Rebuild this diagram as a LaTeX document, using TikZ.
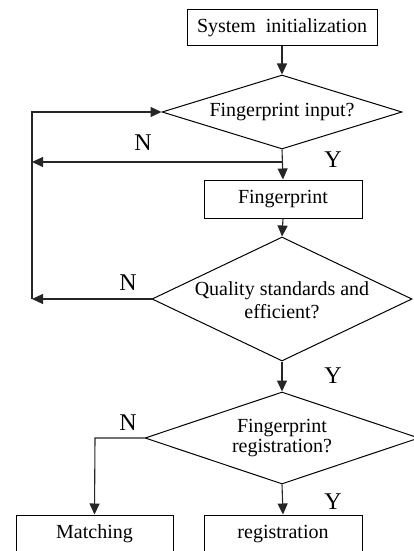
\documentclass[tikz,border=0pt]{standalone}
\usepackage{fontspec}
\setmainfont{Liberation Serif}
\usetikzlibrary{shapes.geometric,arrows.meta}
\begin{document}
\begin{tikzpicture}[x=1pt,y=-1pt,
  every node/.style={font=\fontsize{20}{22}\selectfont},
  procbox/.style={draw, line width=1pt, rectangle, inner sep=0pt},
  dia/.style={draw, line width=1pt, diamond, inner sep=0pt},
  diatext/.style={align=center, inner sep=0pt},
  lbl/.style={font=\fontsize{24}{26}\selectfont, inner sep=0pt},
  conn/.style={line width=1.1pt, draw=black!85},
  arr/.style={conn, -{Triangle[length=11pt,width=10pt]}}]
\useasboundingbox (0,0) rectangle (414,551);
\clip (0,0) rectangle (414,551);
% nodes
\node[procbox, minimum width=190pt, minimum height=36pt] (sys) at (282,28) {System\ \ initialization};
\node[dia, minimum width=240pt, minimum height=74pt] (d1) at (282,112) {};
\node[diatext] (t1) at (282,112) {Fingerprint input?};
\node[procbox, minimum width=158pt, minimum height=38pt] (fp) at (283,199) {Fingerprint};
\node[dia, minimum width=260pt, minimum height=124pt] (d2) at (282,299) {};
\node[diatext, font=\fontsize{20}{23}\selectfont] (t2) at (282,300) {Quality standards and\\efficient?};
\node[dia, minimum width=274pt, minimum height=92pt] (d3) at (282,438) {};
\node[diatext, font=\fontsize{20}{20}\selectfont] (t3) at (282,438) {Fingerprint\\registration?};
\node[procbox, minimum width=157pt, minimum height=38pt] (mat) at (94.5,534) {Matching};
\node[procbox, minimum width=158pt, minimum height=38pt] (reg) at (283,534) {registration};
% helper coordinates
\coordinate (j1) at (283,162);
\coordinate (l1) at (32,162);
\coordinate (l2) at (32,299);
\coordinate (l0) at (32,112);
\coordinate (m1) at (95,438);
% connectors
\draw[arr] (sys.south) -- (d1.north);
\draw[arr] (d1.south) -- (fp.north);
\draw[arr] (j1) -- (l1);
\draw[arr] (fp.south) -- (d2.north);
\draw[arr] (d2.west) -- (l2);
\draw[arr] (l2) -- (l0) -- (d1.west);
\draw[arr] (d2.south) -- (d3.north);
\draw[arr] (d3.west) -- (m1) -- (mat.north);
\draw[arr] (d3.south) -- (reg.north);
% labels
\node[lbl] (n1) at (143,143) {N};
\node[lbl] (y1) at (333,160) {Y};
\node[lbl] (n2) at (128,283) {N};
\node[lbl] (y2) at (333,376) {Y};
\node[lbl] (n3) at (128,423) {N};
\node[lbl] (y3) at (333,502) {Y};
\end{tikzpicture}
\end{document}
